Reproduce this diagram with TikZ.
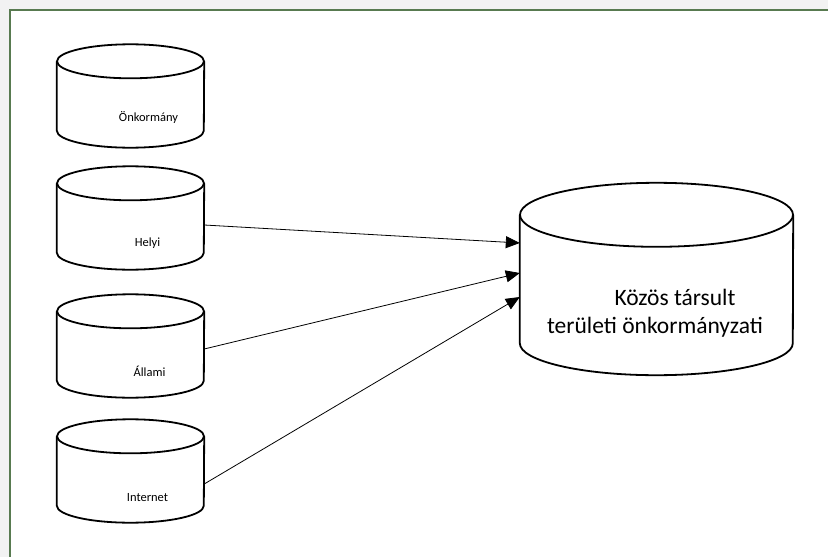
\documentclass[tikz,border=0pt]{standalone}
\usepackage{fontspec}
\setmainfont{Carlito}
\usetikzlibrary{arrows.meta,calc}
\definecolor{framegreen}{RGB}{88,122,80}
\definecolor{margingray}{RGB}{242,242,242}
\tikzset{
 dbbox/.style={rectangle,inner sep=0pt,minimum width=147pt,minimum height=103pt},
 bigbox/.style={rectangle,inner sep=0pt,minimum width=273pt,minimum height=192pt},
 dbline/.style={line width=1.8pt,line join=round},
 dblabel/.style={inner sep=0pt,font=\fontsize{12.5}{14}\selectfont},
 biglabel/.style={inner sep=0pt,font=\fontsize{23.5}{26}\selectfont},
 feed/.style={line width=0.8pt,-{Triangle[length=14pt,width=12pt]}}
}
% cylinder outline round a named box: name, half width, cap radius
\newcommand{\dbcyl}[3]{%
 \draw[dbline] ($(#1.north)+(0,-#3)$) ellipse[x radius=#2,y radius=#3];
 \draw[dbline] ($(#1.north west)+(0,-#3)$) -- ($(#1.south west)+(0,#3)$)
  arc[start angle=180,end angle=360,x radius=#2,y radius=#3]
  -- ($(#1.north east)+(0,-#3)$);
}
\begin{document}
\begin{tikzpicture}[x=1pt,y=1pt]
\useasboundingbox (0,0) rectangle (828,-557);
\fill[margingray] (0,0) rectangle (828,-557);
\fill[white] (10,-10) rectangle (828,-557);
\draw[framegreen,line width=2.5pt] (10,-557) -- (10,-10) -- (828,-10);

% sources
\node[dbbox] (onk) at (130.5,-96) {};
\node[dbbox] (helyi) at (130.5,-218) {};
\node[dbbox] (allami) at (130.5,-346) {};
\node[dbbox] (inet) at (130.5,-471) {};
\foreach \db in {onk,helyi,allami,inet} {\dbcyl{\db}{73.5}{17}}

\node[dblabel] (onklab) at ($(onk)+(18,-21)$) {Önkormány};
\node[dblabel] (helyilab) at ($(helyi)+(17,-25)$) {Helyi};
\node[dblabel] (allamilab) at ($(allami)+(19,-25)$) {Állami};
\node[dblabel] (inetlab) at ($(inet)+(17,-27)$) {Internet};

% target
\node[bigbox] (kozos) at (656.5,-279) {};
\dbcyl{kozos}{136.5}{32}
\node[biglabel] (kozos1) at ($(kozos)+(18.5,-18)$) {Közös társult};
\node[biglabel] (kozos2) at ($(kozos)+(-1.5,-48)$) {területi önkormányzati};

\draw[feed] ($(helyi.east)+(0,-7)$) -- ($(kozos.west)+(0,36)$);
\draw[feed] ($(allami.east)+(0,-3)$) -- ($(kozos.west)+(0,6)$);
\draw[feed] ($(inet.east)+(0,-13)$) -- ($(kozos.west)+(0,-18)$);
\end{tikzpicture}
\end{document}
